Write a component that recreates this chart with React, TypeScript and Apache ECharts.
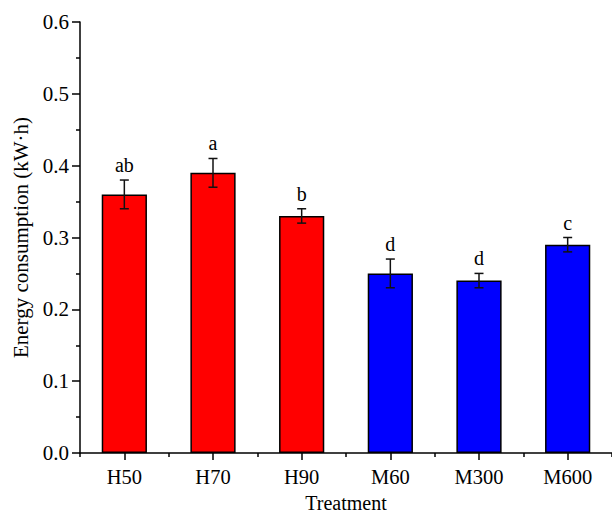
import React, { useEffect, useRef } from "react";
import * as echarts from "echarts";

const categories = ["H50", "H70", "H90", "M60", "M300", "M600"];
const values = [0.36, 0.39, 0.33, 0.25, 0.24, 0.29];
const errors = [0.02, 0.02, 0.01, 0.02, 0.01, 0.01];
const letters = ["ab", "a", "b", "d", "d", "c"];
const colors = ["#ff0000", "#ff0000", "#ff0000", "#0000ff", "#0000ff", "#0000ff"];

const FONT = "'Liberation Serif', 'Times New Roman', serif";

export default function App() {
  const ref = useRef<HTMLDivElement>(null);
  useEffect(() => {
    if (!ref.current) return;
    const chart = echarts.init(ref.current, null, { renderer: "svg" });
    chart.setOption({
      animation: false,
      backgroundColor: "#ffffff",
      textStyle: { fontFamily: FONT },
      grid: { left: 80, right: 0, top: 22, bottom: 61, containLabel: false, outerBoundsMode: "none" },
      xAxis: [
        {
          type: "category",
          data: categories,
          name: "Treatment",
          nameLocation: "middle",
          nameGap: 40,
          nameTextStyle: { fontFamily: FONT, fontSize: 20, lineHeight: 20, color: "#000" },
          axisLine: { show: true, lineStyle: { color: "#000", width: 1.5 } },
          axisTick: { show: true, alignWithLabel: true, length: 7, lineStyle: { color: "#000", width: 1.5 } },
          axisLabel: { fontFamily: FONT, fontSize: 20.5, color: "#000", margin: 13 },
          splitLine: { show: false },
        },
        {
          type: "category",
          data: categories,
          position: "bottom",
          axisLine: { show: false },
          axisTick: { show: true, alignWithLabel: false, length: 4, lineStyle: { color: "#000", width: 1.5 } },
          axisLabel: { show: false },
          splitLine: { show: false },
        },
      ],
      yAxis: {
        type: "value",
        min: 0,
        max: 0.6,
        interval: 0.1,
        name: "Energy consumption (kW·h)",
        nameLocation: "middle",
        nameGap: 49,
        nameRotate: 90,
        nameTextStyle: { fontFamily: FONT, fontSize: 21, color: "#000" },
        axisLine: { show: true, lineStyle: { color: "#000", width: 1.5 } },
        axisTick: { show: true, length: 8, lineStyle: { color: "#000", width: 1.5 } },
        minorTick: { show: true, splitNumber: 2, length: 4, lineStyle: { color: "#000", width: 1.5 } },
        axisLabel: {
          fontFamily: FONT,
          fontSize: 21,
          color: "#000",
          margin: 11,
          formatter: (v: number) => v.toFixed(1),
        },
        splitLine: { show: false },
      },
      series: [
        {
          type: "bar",
          xAxisIndex: 0,
          barWidth: "51%",
          data: values.map((v, i) => ({
            value: v,
            itemStyle: { color: colors[i], borderColor: "#000", borderWidth: 1.5 },
          })),
        },
        {
          type: "custom",
          xAxisIndex: 0,
          z: 10,
          data: values.map((v, i) => [i, v, errors[i]]),
          renderItem: (params: any, api: any) => {
            const idx = api.value(0);
            const v = api.value(1);
            const e = api.value(2);
            const top = api.coord([idx, v + e]);
            const bot = api.coord([idx, v - e]);
            const cap = 4.5;
            const style = { stroke: "#111", lineWidth: 1.5 };
            return {
              type: "group",
              children: [
                { type: "line", shape: { x1: top[0], y1: top[1], x2: bot[0], y2: bot[1] }, style },
                { type: "line", shape: { x1: top[0] - cap, y1: top[1], x2: top[0] + cap, y2: top[1] }, style },
                { type: "line", shape: { x1: bot[0] - cap, y1: bot[1], x2: bot[0] + cap, y2: bot[1] }, style },
                {
                  type: "text",
                  style: {
                    text: letters[params.dataIndex],
                    x: top[0],
                    y: top[1] - 5,
                    textAlign: "center",
                    textVerticalAlign: "bottom",
                    fontFamily: FONT,
                    fontSize: 20,
                    fill: "#000",
                  },
                },
              ],
            };
          },
        },
      ],
    });
    return () => chart.dispose();
  }, []);
  return <div ref={ref} style={{ width: 612, height: 514, position: "absolute", left: 0, top: 0 }} />;
}
